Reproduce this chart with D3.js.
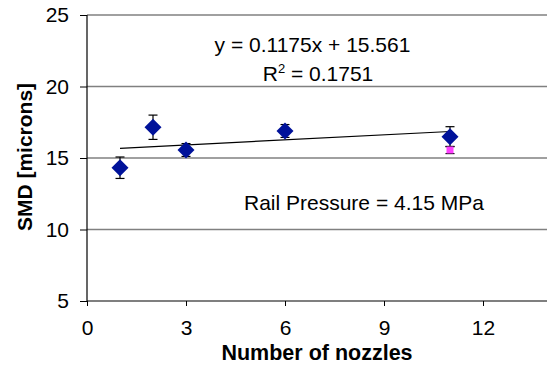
<!DOCTYPE html>
<html>
<head>
<meta charset="utf-8">
<script src="https://cdn.jsdelivr.net/npm/d3@7"></script>
<style>
  body { margin: 0; background: #fff; }
  svg { display: block; font-family: Arial, "Liberation Sans", sans-serif; }
</style>
</head>
<body>
<svg id="chart" width="547" height="366"></svg>
<script>
// nozzles / SMD (microns) / error half-width
const nozzles = [1, 2, 3, 6, 11];
const smd     = [14.32, 17.15, 15.56, 16.89, 16.49];
const smdErr  = [0.75, 0.85, 0.45, 0.45, 0.7];
// the odd pink point at 11 nozzles
const pinkX = [11];
const pinkY = [15.56];
const pinkErr = [0.25];

const xTicks = [0, 3, 6, 9, 12];
const yTicks = [5, 10, 15, 20, 25];
const slope = 0.1175, intercept = 15.561;

const svg = d3.select("#chart");
const x = d3.scaleLinear().domain([0, 14]).range([87, 549]);
const y = d3.scaleLinear().domain([5, 25]).range([301, 15]);

// gridlines
svg.append("g")
    .selectAll("line")
    .data(yTicks.filter(d => d > 5))
    .join("line")
    .attr("x1", x(0)).attr("x2", x(14))
    .attr("y1", d => y(d)).attr("y2", d => y(d))
    .attr("stroke", "#808080")
    .attr("stroke-width", 1.5);

// axes
const yAxis = svg.append("g")
    .attr("transform", "translate(" + x(0) + ",0)")
    .call(d3.axisLeft(y).tickValues(yTicks).tickSize(7).tickPadding(11));
const xAxis = svg.append("g")
    .attr("transform", "translate(0," + y(5) + ")")
    .call(d3.axisBottom(x).tickValues(xTicks).tickSize(5).tickPadding(29));

[yAxis, xAxis].forEach(a => {
    a.select(".domain").attr("stroke", "#000").attr("stroke-width", 1.2);
    a.selectAll(".tick line").attr("stroke", "#000");
    a.selectAll(".tick text")
        .attr("font-family", "Arial, 'Liberation Sans', sans-serif")
        .attr("font-size", 21).attr("fill", "#000");
});
xAxis.selectAll(".tick text").attr("dy", "0");
xAxis.select(".domain").attr("d", "M" + x(0) + ",0H" + x(14));
yAxis.select(".domain").attr("d", "M0," + y(5) + "V" + y(25));

// trendline
svg.append("line")
    .attr("x1", x(1)).attr("y1", y(slope * 1 + intercept))
    .attr("x2", x(11)).attr("y2", y(slope * 11 + intercept))
    .attr("stroke", "#000").attr("stroke-width", 1.2);

const pts = nozzles.map((n, i) => ({ n, v: smd[i], e: smdErr[i] }));
const pink = pinkX.map((n, i) => ({ n, v: pinkY[i], e: pinkErr[i] }));

function errBars(data) {
    const g = svg.append("g").attr("stroke", "#000").attr("stroke-width", 1.2);
    data.forEach(d => {
        g.append("line").attr("x1", x(d.n)).attr("x2", x(d.n))
            .attr("y1", y(d.v - d.e)).attr("y2", y(d.v + d.e));
        [d.v - d.e, d.v + d.e].forEach(v => {
            g.append("line").attr("x1", x(d.n) - 4.5).attr("x2", x(d.n) + 4.5)
                .attr("y1", y(v)).attr("y2", y(v));
        });
    });
}
errBars(pts);
errBars(pink);

svg.append("g")
    .selectAll("path")
    .data(pts)
    .join("path")
    .attr("transform", d => "translate(" + x(d.n) + "," + y(d.v) + ")")
    .attr("d", "M0,-8.5L8.5,0L0,8.5L-8.5,0Z")
    .attr("fill", "#00129A");

svg.append("g")
    .selectAll("rect")
    .data(pink)
    .join("rect")
    .attr("x", d => x(d.n) - 3.5).attr("y", d => y(d.v) - 3.5)
    .attr("width", 7).attr("height", 7)
    .attr("fill", "#FF40FF");

// text
svg.append("text").attr("x", 312.5).attr("y", 52)
    .attr("text-anchor", "middle").attr("font-size", 21)
    .text("y = 0.1175x + 15.561");
const r2 = svg.append("text").attr("x", 318).attr("y", 81)
    .attr("text-anchor", "middle").attr("font-size", 21);
r2.append("tspan").text("R");
r2.append("tspan").attr("dy", -8).attr("font-size", 13).text("2");
r2.append("tspan").attr("dy", 8).text(" = 0.1751");

svg.append("text").attr("x", 244).attr("y", 210)
    .attr("font-size", 21)
    .text("Rail Pressure = 4.15 MPa");

svg.append("text").attr("x", 317).attr("y", 360)
    .attr("text-anchor", "middle").attr("font-size", 21.5).attr("font-weight", "bold")
    .text("Number of nozzles");
svg.append("text")
    .attr("transform", "translate(32,157) rotate(-90)")
    .attr("text-anchor", "middle").attr("font-size", 21).attr("font-weight", "bold")
    .text("SMD [microns]");
</script>
</body>
</html>
